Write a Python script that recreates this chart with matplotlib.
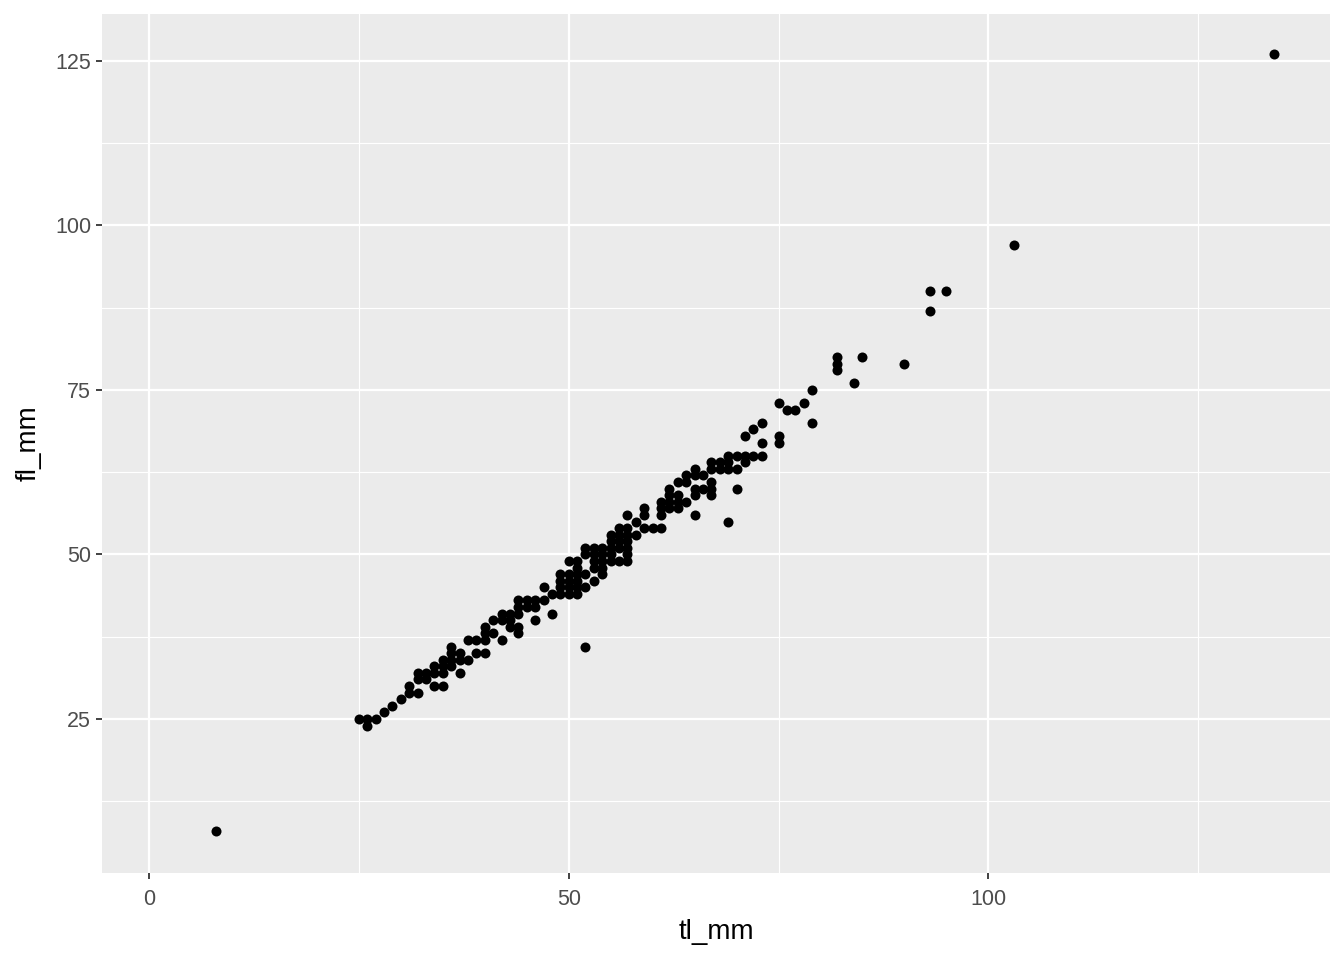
import matplotlib
matplotlib.use("Agg")
import matplotlib.pyplot as plt
from matplotlib.ticker import FixedLocator

# total length vs fork length (mm)
tl_mm = [
    8,
    26,
    25, 26, 27,
    28,
    29,
    30,
    31, 32,
    31, 34, 35,
    32, 33,
    32, 33, 34, 35, 37,
    34, 35, 36,
    35, 36, 37, 38,
    36, 37, 39, 40,
    36, 52,
    38, 39, 40, 42,
    40, 41, 44,
    40, 43, 44,
    41, 42, 43, 46,
    42, 43, 44, 48,
    44, 45, 46,
    44, 45, 46, 47,
    48, 49, 50, 51,
    47, 49, 50, 51, 52,
    49, 50, 51, 53,
    49, 50, 51, 52, 54,
    51, 53, 54,
    50, 51, 53, 54, 55, 56, 57,
    52, 53, 54, 55, 57,
    52, 53, 54, 55, 56, 57,
    55, 56, 57,
    55, 56, 57, 58,
    56, 57, 59, 60, 61,
    58, 69,
    57, 59, 61, 65,
    59, 61, 62, 63,
    61, 62, 63, 64,
    62, 63, 65, 67,
    62, 65, 66, 67, 70,
    63, 64, 67,
    64, 65, 66,
    65, 67, 68, 69, 70,
    67, 68, 69, 71,
    69, 70, 71, 72, 73,
    73, 75,
    71, 75,
    72,
    73, 79,
    76, 77,
    75, 78,
    79,
    84,
    82,
    82, 90,
    82, 85,
    93,
    93, 95,
    103,
    134,
]
fl_mm = [
    8,
    24,
    25, 25, 25,
    26,
    27,
    28,
    29, 29,
    30, 30, 30,
    31, 31,
    32, 32, 32, 32, 32,
    33, 33, 33,
    34, 34, 34, 34,
    35, 35, 35, 35,
    36, 36,
    37, 37, 37, 37,
    38, 38, 38,
    39, 39, 39,
    40, 40, 40, 40,
    41, 41, 41, 41,
    42, 42, 42,
    43, 43, 43, 43,
    44, 44, 44, 44,
    45, 45, 45, 45, 45,
    46, 46, 46, 46,
    47, 47, 47, 47, 47,
    48, 48, 48,
    49, 49, 49, 49, 49, 49, 49,
    50, 50, 50, 50, 50,
    51, 51, 51, 51, 51, 51,
    52, 52, 52,
    53, 53, 53, 53,
    54, 54, 54, 54, 54,
    55, 55,
    56, 56, 56, 56,
    57, 57, 57, 57,
    58, 58, 58, 58,
    59, 59, 59, 59,
    60, 60, 60, 60, 60,
    61, 61, 61,
    62, 62, 62,
    63, 63, 63, 63, 63,
    64, 64, 64, 64,
    65, 65, 65, 65, 65,
    67, 67,
    68, 68,
    69,
    70, 70,
    72, 72,
    73, 73,
    75,
    76,
    78,
    79, 79,
    80, 80,
    87,
    90, 90,
    97,
    126,
]
assert len(tl_mm) == len(fl_mm)

x_major = [0, 50, 100]
x_minor = [25, 75, 125]
y_major = [25, 50, 75, 100, 125]
y_minor = [12.5, 37.5, 62.5, 87.5, 112.5]

plt.rcParams['font.family'] = ['Liberation Sans', 'DejaVu Sans']

fig = plt.figure(figsize=(13.44, 9.6), dpi=100)
ax = fig.add_axes([102 / 1344, 87 / 960, 1228 / 1344, 859 / 960])
ax.set_facecolor('#EBEBEB')
for s in ax.spines.values():
    s.set_visible(False)

ax.set_xlim(-5.6, 140.7)
ax.set_ylim(1.6, 132.1)
ax.xaxis.set_major_locator(FixedLocator(x_major))
ax.xaxis.set_minor_locator(FixedLocator(x_minor))
ax.yaxis.set_major_locator(FixedLocator(y_major))
ax.yaxis.set_minor_locator(FixedLocator(y_minor))
ax.grid(which='major', color='white', linewidth=1.6)
ax.grid(which='minor', color='white', linewidth=0.8)
ax.set_axisbelow(True)

ax.tick_params(which='major', length=4.3, width=1.3, color='#333333',
               labelsize=15.5, labelcolor='#4D4D4D')
ax.tick_params(axis='x', which='major', pad=7.5)
ax.tick_params(axis='y', which='major', pad=3.5)
ax.tick_params(which='minor', length=0)

ax.scatter(tl_mm, fl_mm, s=52, color='black', linewidths=0, zorder=3)

ax.set_xlabel('tl_mm', fontsize=20, labelpad=6)
ax.set_ylabel('fl_mm', fontsize=20, labelpad=10)

fig.savefig('out.png', dpi=100)
